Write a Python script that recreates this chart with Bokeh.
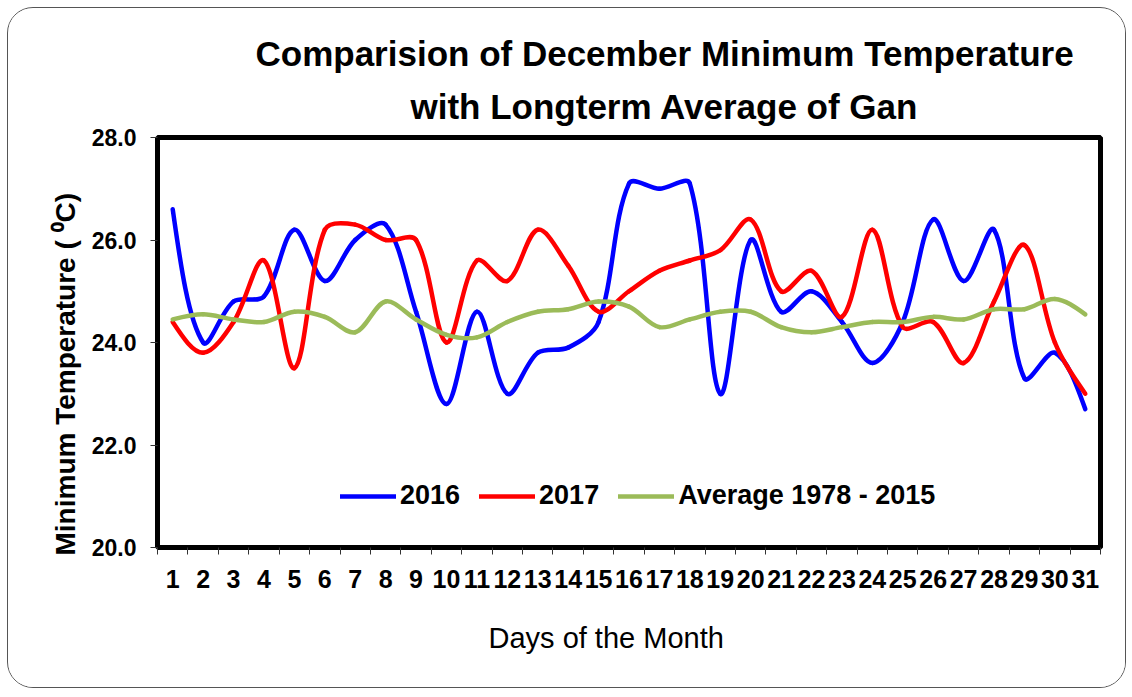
import math
from bokeh.plotting import figure
from bokeh.models import Range1d, FixedTicker, Legend, LegendItem, Title
from bokeh.embed import file_html
from bokeh.resources import INLINE

# ---- data ----
day_labels = ["1", "2", "3", "4", "5", "6", "7", "8", "9", "10", "11", "12", "13", "14", "15", "16",
              "17", "18", "19", "20", "21", "22", "23", "24", "25", "26", "27", "28", "29", "30", "31"]
temp_2016 = [26.6, 24.0, 24.8, 24.9, 26.2, 25.2, 26.0, 26.3, 24.6, 22.8, 24.6, 23.0, 23.8, 23.9, 24.4, 27.1,
             27.0, 27.1, 23.0, 26.0, 24.6, 25.0, 24.4, 23.6, 24.4, 26.4, 25.2, 26.2, 23.3, 23.8, 22.7]
temp_2017 = [24.4, 23.8, 24.4, 25.6, 23.5, 26.2, 26.3, 26.0, 26.0, 24.0, 25.6, 25.2, 26.2, 25.5, 24.6, 25.0,
             25.4, 25.6, 25.8, 26.4, 25.0, 25.4, 24.5, 26.2, 24.3, 24.4, 23.6, 24.8, 25.9, 24.0, 23.0]
temp_avg = [24.45, 24.55, 24.45, 24.4, 24.6, 24.5, 24.2, 24.8, 24.45, 24.15, 24.1, 24.4, 24.6, 24.65, 24.8, 24.7,
            24.3, 24.45, 24.6, 24.6, 24.3, 24.2, 24.3, 24.4, 24.4, 24.5, 24.45, 24.65, 24.65, 24.85, 24.55]
series_names = ["2016", "2017", "Average 1978 - 2015"]
y_ticks = [20, 22, 24, 26, 28]
y_tick_labels = ["20.0", "22.0", "24.0", "26.0", "28.0"]

colors = ["#0000FF", "#FF0000", "#9BBB59"]
FONT = "Liberation Sans"

W, H = 1119, 681
BL, BR, BT, BB = 149, 27, 129, 142
Y0, Y1 = 20, 28

x_pos = [i + 1 for i in range(len(day_labels))]

p = figure(width=W, height=H, output_backend="svg", toolbar_location=None,
           x_range=Range1d(0.5, len(day_labels) + 0.5), y_range=Range1d(Y0, Y1))
p.min_border_left = BL
p.min_border_right = BR
p.min_border_top = BT
p.min_border_bottom = BB
p.background_fill_color = "white"
p.border_fill_color = "white"
p.outline_line_color = "black"
p.outline_line_width = 5
p.grid.visible = False
p.styles = {"margin": "7px 0 0 7px", "border": "1px solid #555555", "border-radius": "26px",
            "overflow": "hidden"}

# pixel size of one unit on each axis (used only to shape the smooth curve)
ux = (W - BL - BR) / len(day_labels)
uy = (H - BT - BB) / (Y1 - Y0)


def bezier_parts(xs, ys):
    n = len(xs)

    def dist(i, j):
        return math.hypot((xs[j] - xs[i]) * ux, (ys[j] - ys[i]) * uy)

    cin, cout = [None] * n, [None] * n
    for i in range(1, n - 1):
        din, dout = dist(i - 1, i), dist(i, i + 1)
        tx, ty = xs[i + 1] - xs[i - 1], ys[i + 1] - ys[i - 1]
        fi = din / (din + dout) / 3.0
        fo = dout / (din + dout) / 3.0
        cin[i] = (xs[i] - tx * fi, ys[i] - ty * fi)
        cout[i] = (xs[i] + tx * fo, ys[i] + ty * fo)
    cout[0] = (xs[0] + (cin[1][0] - xs[0]) / 2.0, ys[0] + (cin[1][1] - ys[0]) / 2.0)
    cin[n - 1] = (xs[n - 1] + (cout[n - 2][0] - xs[n - 1]) / 2.0,
                  ys[n - 1] + (cout[n - 2][1] - ys[n - 1]) / 2.0)
    out = dict(x0=[], y0=[], x1=[], y1=[], cx0=[], cy0=[], cx1=[], cy1=[])
    for i in range(n - 1):
        out["x0"].append(xs[i]); out["y0"].append(ys[i])
        out["x1"].append(xs[i + 1]); out["y1"].append(ys[i + 1])
        out["cx0"].append(cout[i][0]); out["cy0"].append(cout[i][1])
        out["cx1"].append(cin[i + 1][0]); out["cy1"].append(cin[i + 1][1])
    return out


items = []
for name, vals, col in zip(series_names, [temp_2016, temp_2017, temp_avg], colors):
    bz = bezier_parts(x_pos, vals)
    r = p.bezier(line_color=col, line_width=4.5, line_cap="round", **bz)
    items.append(LegendItem(label=name, renderers=[r]))

legend = Legend(items=items, orientation="horizontal", location=(183, 36),
                background_fill_alpha=0, border_line_alpha=0,
                label_text_font=FONT, label_text_font_style="bold", label_text_font_size="27px",
                label_text_color="black",
                glyph_width=56, glyph_height=26, label_height=26, label_standoff=4, spacing=19,
                padding=0, margin=0)
p.add_layout(legend, "center")

# x axis
xa = p.xaxis[0]
xa.ticker = FixedTicker(ticks=x_pos, minor_ticks=[x - 0.5 for x in x_pos] + [len(x_pos) + 0.5])
xa.major_label_overrides = {x: lab for x, lab in zip(x_pos, day_labels)}
xa.major_tick_out = 0
xa.major_tick_in = 0
xa.minor_tick_out = 7
xa.minor_tick_in = 0
xa.minor_tick_line_color = "#333333"
xa.axis_line_width = 5
xa.axis_line_color = "black"
xa.major_label_text_font = FONT
xa.major_label_text_font_style = "bold"
xa.major_label_text_font_size = "25px"
xa.major_label_text_color = "black"
xa.major_label_standoff = 15

# y axis
ya = p.yaxis[0]
ya.ticker = FixedTicker(ticks=y_ticks, minor_ticks=[])
ya.major_label_overrides = {t: lab for t, lab in zip(y_ticks, y_tick_labels)}
ya.major_tick_out = 7
ya.major_tick_in = 0
ya.major_tick_line_color = "#333333"
ya.minor_tick_out = 0
ya.minor_tick_in = 0
ya.axis_line_width = 5
ya.axis_line_color = "black"
ya.major_label_text_font = FONT
ya.major_label_text_font_style = "bold"
ya.major_label_text_font_size = "23px"
ya.major_label_text_color = "black"
ya.major_label_standoff = 14

# titles and axis labels
p.add_layout(Title(text="with Longterm Average of Gan", align="left", offset=253, standoff=24,
                   text_font=FONT, text_font_style="bold", text_font_size="35px",
                   text_color="black"), "above")
p.add_layout(Title(text="Comparision of December Minimum Temperature", align="left", offset=98,
                   standoff=0, text_font=FONT, text_font_style="bold", text_font_size="35px",
                   text_color="black"), "above")
p.add_layout(Title(text="Days of the Month", align="left", offset=331, standoff=58,
                   text_font=FONT, text_font_style="normal", text_font_size="29px",
                   text_color="black"), "below")
p.add_layout(Title(text="Minimum Temperature ( \u2070C)", align="left", offset=-8, standoff=16,
                   text_font=FONT, text_font_style="bold", text_font_size="28px",
                   text_color="black"), "left")

open("out.html", "w").write(file_html(p, INLINE))
